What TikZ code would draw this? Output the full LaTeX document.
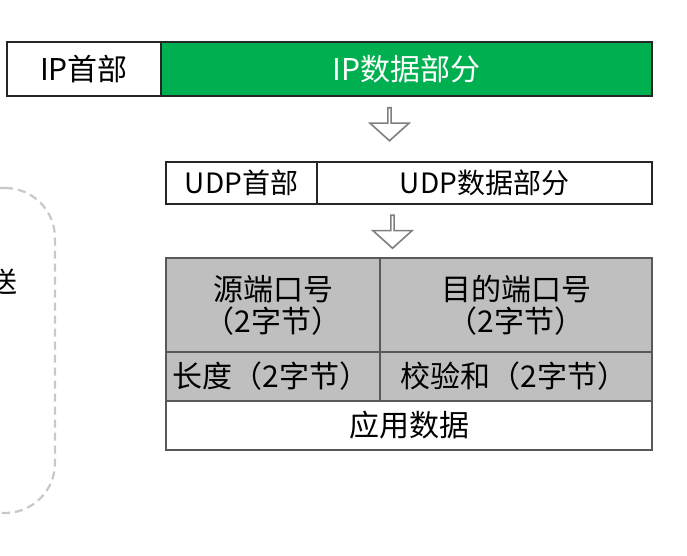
\documentclass[tikz,border=0pt]{standalone}
\usepackage{fontspec}
\newfontfamily\cjk{Noto Sans CJK SC}
\usepackage{tikz}
\usetikzlibrary{shapes.arrows,positioning}

\definecolor{ipgreen}{HTML}{00B050}
\definecolor{cellgray}{HTML}{BFBFBF}
\definecolor{arrowgray}{HTML}{7F7F7F}
\definecolor{framegray}{HTML}{C8C8C8}

\begin{document}
\begin{tikzpicture}[
  x=1pt, y=-1pt,
  font=\cjk\fontsize{28}{32}\selectfont,
  cell/.style={rectangle, draw=black!85, line width=1.3pt, inner sep=0pt, outer sep=0pt,
               align=center, fill=white},
  ipcell/.style={cell, minimum height=54pt, font=\cjk\fontsize{30}{34}\selectfont},
  ipbody/.style={ipcell, fill=ipgreen, text=white},
  udpcell/.style={cell, minimum height=42pt},
  field/.style={cell, draw=black!65, line width=1.6pt, fill=cellgray,
                font=\cjk\fontsize{30}{32}\selectfont},
  blockarrow/.style={single arrow, draw=arrowgray, fill=white, line width=1.6pt,
                     shape border rotate=270, inner sep=0pt, minimum height=33pt,
                     minimum width=39pt, single arrow head extend=8.5pt,
                     single arrow tip angle=96},
  sendframe/.style={rectangle, rounded corners=50pt, draw=framegray, line width=2.2pt,
                    dash pattern=on 8pt off 5pt},
]
\useasboundingbox (0,0) rectangle (687,556);

% left frame, mostly cut off
\node[sendframe, minimum width=255pt, minimum height=325pt] (sendbox) at (-72.5,350.5) {};
\node (sendtxt) at (4,282) {送};

% IP datagram
\node[ipcell, minimum width=154pt] (iphead) at (84,69) {IP首部};
\node[ipbody, minimum width=491pt, right=0pt of iphead] (ipdata) {IP数据部分};

\node[blockarrow] (down1) at (389.5,123.5) {};

% UDP datagram
\node[udpcell, minimum width=151pt] (udphead) at (241.5,183) {UDP首部};
\node[udpcell, minimum width=335pt, right=0pt of udphead] (udpdata) {UDP数据部分};

\node[blockarrow] (down2) at (392.5,231) {};

% UDP header fields
\node[field, minimum width=214pt, minimum height=94pt] (srcport) at (273,305) {源端口号\\（2字节）};
\node[field, minimum width=272pt, minimum height=94pt, right=0pt of srcport] (dstport) {目的端口号\\（2字节）};
\node[field, minimum width=214pt, minimum height=49pt, below=0pt of srcport] (udplen) {\hspace*{-4pt}长度（2字节）};
\node[field, minimum width=272pt, minimum height=49pt, below=0pt of dstport] (checksum) {\hspace*{-4pt}校验和（2字节）};
\node[cell, draw=black!65, line width=1.6pt, minimum width=486pt, minimum height=49pt,
      font=\cjk\fontsize{30}{32}\selectfont,
      below=0pt of udplen.south west, anchor=north west] (appdata) {应用数据};

\end{tikzpicture}
\end{document}
